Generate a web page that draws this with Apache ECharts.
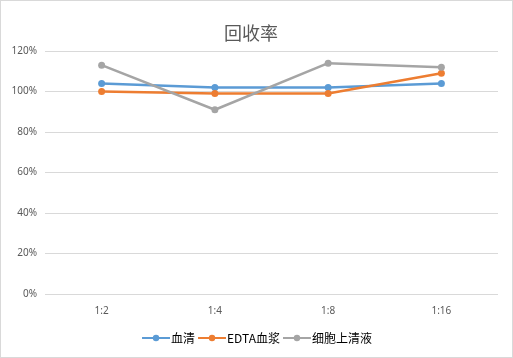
<!DOCTYPE html>
<html><head><meta charset="utf-8">
<script src="https://cdn.jsdelivr.net/npm/echarts@6/dist/echarts.min.js"></script>
<style>html,body{margin:0;padding:0;background:#fff}#c{width:511px;height:356px;border:1px solid #d9d9d9}</style>
</head><body><div id="c"></div>
<script>
const categories = ['1:2', '1:4', '1:8', '1:16'];
const serum = [104, 102, 102, 104];
const edtaPlasma = [100, 99, 99, 109];
const cellSupernatant = [113, 91, 114, 112];
const seriesNames = ['血清', 'EDTA血浆', '细胞上清液'];
const colors = ['#5b9bd5', '#ed7d31', '#a5a5a5'];
const dataSets = [serum, edtaPlasma, cellSupernatant];
const font = '"Noto Sans", "Noto Sans CJK SC", sans-serif';
const chart = echarts.init(document.getElementById('c'));
chart.setOption({
  animation: false,
  title: { text: '回收率', left: 218, top: 18, textStyle: { fontSize: 18, fontWeight: 'normal', color: '#595959', fontFamily: '"Noto Sans CJK SC", sans-serif' } },
  grid: { left: 44, right: 14, top: 50, bottom: 63 },
  legend: { bottom: 8, left: 'center', itemWidth: 28, itemHeight: 8, itemGap: 2,
    textStyle: { fontSize: 12, color: '#000', fontFamily: '"Noto Sans CJK SC", sans-serif', padding: [0,0,0,-4] },
    data: seriesNames },
  xAxis: { type: 'category', data: categories, boundaryGap: true,
    axisLine: { show: false }, axisTick: { show: false },
    axisLabel: { fontSize: 10, color: '#595959', margin: 12, fontFamily: font } },
  yAxis: { type: 'value', min: 0, max: 120, interval: 20,
    axisLabel: { formatter: '{value}%', fontSize: 10, color: '#595959', margin: 8, fontFamily: font },
    splitLine: { lineStyle: { color: '#d9d9d9', width: 1 } } },
  series: dataSets.map((d, i) => ({
    name: seriesNames[i], type: 'line', data: d, symbol: 'circle', symbolSize: 7,
    lineStyle: { color: colors[i], width: 2.5 }, itemStyle: { color: colors[i] }
  }))
});
</script></body></html>
